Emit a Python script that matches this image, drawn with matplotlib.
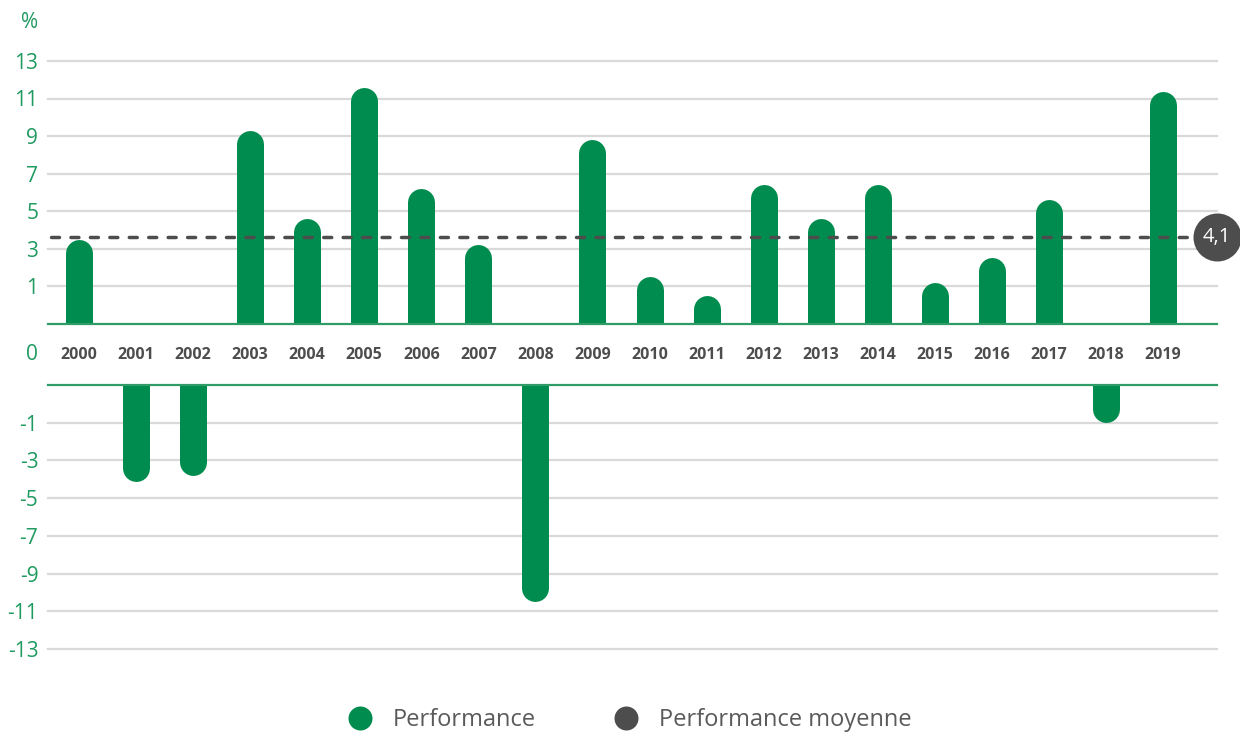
import matplotlib
matplotlib.use("Agg")
import matplotlib.pyplot as plt
import matplotlib.transforms as mtrans
from matplotlib.lines import Line2D
from matplotlib.transforms import blended_transform_factory

plt.rcParams['font.family'] = ['Open Sans', 'DejaVu Sans']

# ---------------- data ----------------
years = ['2000', '2001', '2002', '2003', '2004', '2005', '2006', '2007', '2008', '2009',
         '2010', '2011', '2012', '2013', '2014', '2015', '2016', '2017', '2018', '2019']
performance = [4.5, -5.1, -4.8, 10.3, 5.6, 12.6, 7.2, 4.2, -11.5, 9.8,
               2.5, 1.5, 7.4, 5.6, 7.4, 2.2, 3.5, 6.6, -2.0, 12.4]
mean_position = 4.6          # where the dashed average line sits in the picture
mean_label = '4,1'
top_ticks = [2, 4, 6, 8, 10, 12, 14]
top_tick_labels = ['1', '3', '5', '7', '9', '11', '13']
bottom_ticks = [-2, -4, -6, -8, -10, -12, -14]
bottom_tick_labels = ['-1', '-3', '-5', '-7', '-9', '-11', '-13']
legend_labels = ['Performance', 'Performance moyenne']

# ---------------- style ----------------
GREEN = '#008C4E'
TICK_GREEN = '#1F9A60'
BASE_GREEN = '#2F9B66'
DARK = '#4D4D4D'
GRID = '#D9D9D9'

W, H = 1240, 734
fig = plt.figure(figsize=(W / 100, H / 100), dpi=100)

left_px, right_px = 48, 1217
top_ylim = (0, 14.3)
bot_ylim = (-14.3, 0)
top_base_px, top_unit = 323.5, 18.75
bot_base_px, bot_unit = 385.0, 18.85

ax_top = fig.add_axes([left_px / W, (H - top_base_px) / H, (right_px - left_px) / W,
                       (top_ylim[1] * top_unit) / H])
ax_bot = fig.add_axes([left_px / W, (H - bot_base_px + bot_ylim[0] * bot_unit) / H,
                       (right_px - left_px) / W, (-bot_ylim[0] * bot_unit) / H])

x = list(range(len(years)))
slot = 57.05
xlim = ((left_px - 79) / slot, (right_px - 79) / slot)

bar_px = 27.0
lw_pt = bar_px * 72 / 100

for ax, ylim, ticks, labels in [(ax_top, top_ylim, top_ticks, top_tick_labels),
                                (ax_bot, bot_ylim, bottom_ticks, bottom_tick_labels)]:
    ax.set_xlim(*xlim)
    ax.set_ylim(*ylim)
    for s in ax.spines.values():
        s.set_visible(False)
    ax.set_yticks(ticks)
    ax.set_yticklabels(labels)
    ax.tick_params(axis='y', length=0, pad=7, labelsize=15, labelcolor=TICK_GREEN)
    ax.set_xticks([])
    for t in ticks:
        ax.axhline(t, color=GRID, lw=1.6, zorder=0, clip_on=False)
    ax.axhline(0, color=BASE_GREEN, lw=1.6, zorder=3, clip_on=False)
    ax.patch.set_alpha(0)

# bars with rounded outer ends
r_top = (bar_px / 2) / top_unit
r_bot = (bar_px / 2) / bot_unit
for xi, v in zip(x, performance):
    if v >= 0:
        ax_top.plot([xi, xi], [0, v - r_top], color=GREEN, lw=lw_pt,
                    solid_capstyle='round', zorder=2)
    else:
        ax_bot.plot([xi, xi], [0, v + r_bot], color=GREEN, lw=lw_pt,
                    solid_capstyle='round', zorder=2)

# average dashed line and badge
dash_lw = 2.5
ax_top.plot([xlim[0] + 3 / slot, xlim[1] - 22 / slot], [mean_position, mean_position],
            color=DARK, lw=dash_lw, linestyle=(0, (2.3, 3.3)), dash_capstyle='round',
            zorder=4, clip_on=False)
tr = blended_transform_factory(ax_top.transAxes, ax_top.transData)
ax_top.plot([1.0], [mean_position], marker='o', markersize=48 * 0.72, color=DARK,
            transform=tr, clip_on=False, zorder=5, markeredgewidth=0)
ax_top.text(1.0, mean_position, mean_label, transform=tr, color='white', fontsize=14.5,
            ha='center', va='center', zorder=6, clip_on=False)

# year labels in the gap between the two panels
year_tr = ax_top.transData + mtrans.ScaledTranslation(0, -31.5 / 100, fig.dpi_scale_trans)
for xi, yr in zip(x, years):
    ax_top.text(xi, 0, yr, transform=year_tr, fontsize=11.5, fontweight='bold',
                color=DARK, ha='center', va='center', zorder=5)

fig.text((left_px - 10) / W, 1 - 355 / H, '0', color=TICK_GREEN, fontsize=15,
         ha='right', va='center')
fig.text((left_px - 10) / W, 1 - 22 / H, '%', color=TICK_GREEN, fontsize=15,
         ha='right', va='center')

handles = [Line2D([], [], marker='o', linestyle='none', markersize=24 * 0.72,
                  color=GREEN, markeredgewidth=0),
           Line2D([], [], marker='o', linestyle='none', markersize=24 * 0.72,
                  color=DARK, markeredgewidth=0)]
leg = fig.legend(handles, legend_labels, loc='center', bbox_to_anchor=(0.508, 1 - 720 / H),
                 ncol=2, frameon=False, fontsize=17, handlelength=1.0,
                 handletextpad=0.9, columnspacing=3.3)
for t in leg.get_texts():
    t.set_color('#5A5A5A')

fig.savefig('out.png', dpi=100)
